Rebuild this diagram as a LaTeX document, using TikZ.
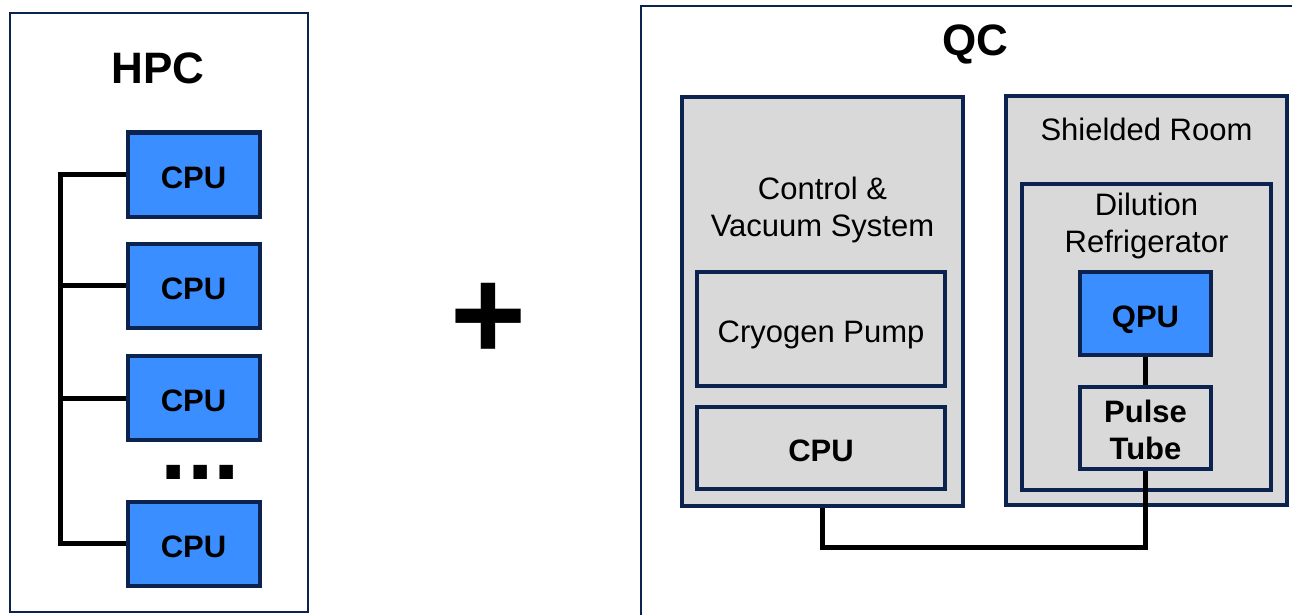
\documentclass[tikz,border=0pt]{standalone}
\usepackage{fontspec}
\setmainfont{Liberation Sans}
\usetikzlibrary{calc}
\definecolor{navy}{RGB}{12,35,80}
\definecolor{cpublue}{RGB}{58,142,255}
\definecolor{boxgray}{RGB}{217,217,217}
\begin{document}
\begin{tikzpicture}[x=1pt, y=-1pt,
    every node/.style={font=\fontsize{31}{37}\selectfont, inner sep=0pt},
    frame/.style={draw=navy, line width=2pt, fill=white},
    cpubox/.style={draw=navy, line width=4pt, fill=cpublue, font=\fontsize{31}{37}\selectfont\bfseries,
      text height=27pt, text depth=0pt},
    graybox/.style={draw=navy, line width=4pt, fill=boxgray},
    oneline/.style={text height=27pt, text depth=0pt},
    title/.style={font=\fontsize{44}{50}\selectfont\bfseries},
    wire/.style={draw=black, line width=5pt, line join=miter}]
        \useasboundingbox (0,0) rectangle (1292,615);
        \clip (0,0) rectangle (1292,615);
        % HPC side
        \node[frame, minimum width=298, minimum height=599] (hpc) at (159,312.5) {};
        \node[title] (hpctitle) at (158,68) {HPC};
        \def\cpurows{174.5, 285.5, 398, 543.5}
        \foreach \y [count = \i] in \cpurows{
          \node[cpubox, minimum width=132, minimum height=84] (cpu\i) at (193.5,\y) {CPU};
        }
        \node[font=\fontsize{95}{95}\selectfont\bfseries] (dots) at (200.5,472.5) {...};
        \coordinate (bus) at (60.5,175);
        \draw[wire] (cpu1.west) -- (bus |- cpu1.west) -- (bus |- cpu4.west) -- (cpu4.west);
        \foreach \i in {2,3}{
          \draw[wire] (bus |- cpu\i.west) -- (cpu\i.west);
        }
        \node[font=\fontsize{130}{130}\selectfont\bfseries] (plus) at (488,321) {+};
        % QC side
        \node[frame, minimum width=680, minimum height=640] (qc) at (981,326) {};
        \node[title] (qctitle) at (975,44) {QC};
        \node[graybox, minimum width=281, minimum height=409] (ctrl) at (822.5,301.5) {};
        \node[align=center] (ctrllabel) at (822.5,210) {Control \&\\Vacuum System};
        \node[graybox, oneline, minimum width=248, minimum height=114] (pump) at (821,329) {Cryogen Pump};
        \node[graybox, oneline, minimum width=248, minimum height=82, font=\fontsize{31}{37}\selectfont\bfseries] (ccpu) at (821,448) {CPU};
        \node[graybox, minimum width=281, minimum height=409] (shield) at (1146.5,300.5) {};
        \node (shieldlabel) at (1146.5,129) {Shielded Room};
        \node[graybox, minimum width=249, minimum height=306] (dil) at (1146.5,337) {};
        \node[align=center] (dillabel) at (1146.5,226) {Dilution\\Refrigerator};
        \node[cpubox, minimum width=131, minimum height=83] (qpu) at (1145.5,313.5) {QPU};
        \node[graybox, minimum width=131, minimum height=82] (ptube) at (1145.5,428) {};
        \node[align=center, font=\fontsize{31}{37}\selectfont\bfseries] (ptubelabel) at (1145.5,430) {Pulse\\Tube};
        \coordinate (link) at (822,547);
        \draw[wire] (qpu.south) -- (ptube.north);
        \draw[wire] (ctrl.south) |- (ptube.south |- link) -- (ptube.south);
\end{tikzpicture}
\end{document}
